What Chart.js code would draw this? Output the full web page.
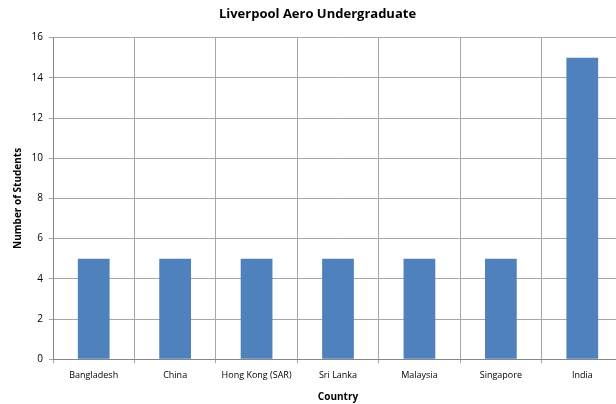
<!DOCTYPE html>
<html>
<head>
<meta charset="utf-8">
<script src="https://cdn.jsdelivr.net/npm/chart.js@4"></script>
<style>
  html, body { margin: 0; padding: 0; background: #fff; overflow: hidden; }
  #wrap { width: 630px; height: 404px; }
</style>
</head>
<body>
<div id="wrap"><canvas id="chart" width="630" height="404"></canvas></div>
<script>
const countries = ['Bangladesh', 'China', 'Hong Kong (SAR)', 'Sri Lanka', 'Malaysia', 'Singapore', 'India'];
const students = [5, 5, 5, 5, 5, 5, 15];
const yTicks = [0, 2, 4, 6, 8, 10, 12, 14, 16];

const fontFamily = "'Open Sans', 'Liberation Sans', sans-serif";
const gridColor = '#a6a6a6';

const ctx = document.getElementById('chart').getContext('2d');
new Chart(ctx, {
    type: 'bar',
    data: {
        labels: countries,
        datasets: [{
            label: 'Students',
            data: students,
            backgroundColor: '#4f81bd',
            borderWidth: 0,
            categoryPercentage: 1,
            barPercentage: 0.39
        }]
    },
    options: {
        responsive: false,
        animation: false,
        layout: { padding: { top: 6, right: 7, bottom: 1, left: 12 } },
        plugins: {
            legend: { display: false },
            tooltip: { enabled: false },
            title: {
                display: true,
                text: 'Liverpool Aero Undergraduate',
                color: '#000',
                font: { family: fontFamily, size: 13, weight: 'bold' },
                padding: { top: 0, bottom: 16 }
            }
        },
        scales: {
            y: {
                min: 0,
                max: 16,
                afterBuildTicks: axis => { axis.ticks = yTicks.map(v => ({ value: v })); },
                afterFit: axis => { axis.width = 41; },
                ticks: {
                    color: '#000',
                    padding: 6,
                    font: { family: fontFamily, size: 10 }
                },
                grid: { color: gridColor, tickLength: 4 },
                border: { color: '#868686' },
                title: {
                    display: true,
                    text: 'Number of Students',
                    color: '#000',
                    font: { family: fontFamily, size: 10, weight: 'bold' },
                    padding: { top: 0, bottom: 4 }
                }
            },
            x: {
                offset: true,
                ticks: {
                    color: '#000',
                    padding: 7,
                    maxRotation: 0,
                    autoSkip: false,
                    font: { family: fontFamily, size: 9 }
                },
                grid: { color: gridColor, offset: true, tickLength: 4 },
                border: { color: '#868686' },
                title: {
                    display: true,
                    text: 'Country',
                    color: '#000',
                    font: { family: fontFamily, size: 10, weight: 'bold' },
                    padding: { top: 3, bottom: 0 }
                }
            }
        }
    }
});
</script>
</body>
</html>
